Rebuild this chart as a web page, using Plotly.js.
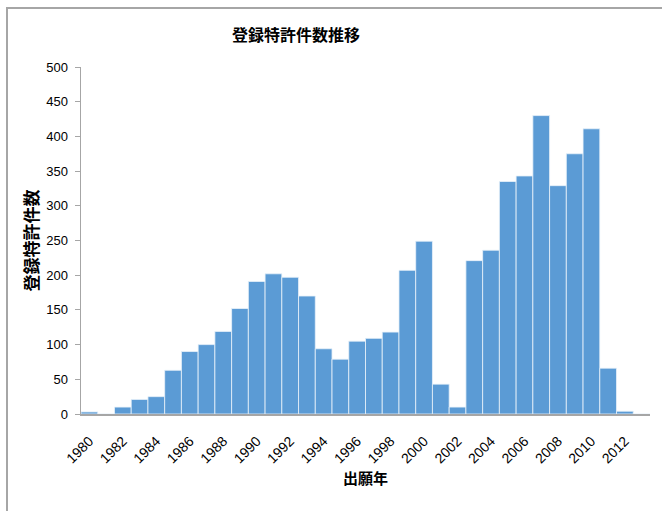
<!DOCTYPE html>
<html>
<head>
<meta charset="utf-8">
<script src="https://cdn.plot.ly/plotly-3.0.1.min.js"></script>
<style>
  html, body { margin: 0; padding: 0; background: #fff; }
  #chart { width: 662px; height: 511px; }
  #frame { position: absolute; left: 6px; top: 7px; width: 700px; height: 600px;
           border-top: 2px solid #a6a6a6; border-left: 2px solid #a6a6a6; pointer-events: none; }
</style>
</head>
<body>
<div id="chart"></div>
<div id="frame"></div>
<script>
const years = [1980,1981,1982,1983,1984,1985,1986,1987,1988,1989,1990,1991,1992,1993,1994,1995,1996,
               1997,1998,1999,2000,2001,2002,2003,2004,2005,2006,2007,2008,2009,2010,2011,2012,2013];
const counts = [3,0,10,21,25,63,90,100,119,152,191,202,197,170,94,79,105,
                109,118,207,249,43,10,221,236,335,343,430,329,375,411,66,4,0];
const yTicks = [0,50,100,150,200,250,300,350,400,450,500];
const xTicks = [1980,1982,1984,1986,1988,1990,1992,1994,1996,1998,2000,2002,2004,2006,2008,2010,2012];

const cjk = '"Noto Sans CJK JP", "Noto Sans CJK SC", sans-serif';
const latin = '"Liberation Sans", Arial, sans-serif';

const data = [{
  type: 'bar',
  x: years,
  y: counts,
  marker: { color: '#5b9bd5', line: { color: '#eaf2fa', width: 0.8 } },
  hoverinfo: 'x+y'
}];

const layout = {
  width: 662, height: 511,
  margin: { l: 81, r: 12, t: 67, b: 97 },
  paper_bgcolor: '#ffffff', plot_bgcolor: '#ffffff',
  bargap: 0,
  showlegend: false,
  title: { text: '登録特許件数推移', x: 0.447, xanchor: 'center', y: 0.93, yanchor: 'middle',
           font: { family: cjk, size: 16, color: '#000', weight: 'bold' } },
  xaxis: {
    range: [1979.5, 2013.5],
    tickmode: 'array', tickvals: xTicks, ticktext: xTicks.map(String),
    tickangle: -45,
    ticks: '', showgrid: false, zeroline: false,
    ticklabelstandoff: 12,
    showline: true, linecolor: '#a6a6a6', linewidth: 1.5,
    tickfont: { family: latin, size: 14, color: '#000' },
    title: { text: '出願年', standoff: 8, font: { family: cjk, size: 15, color: '#000', weight: 'bold' } }
  },
  yaxis: {
    range: [0, 500],
    tickmode: 'array', tickvals: yTicks, ticktext: yTicks.map(String),
    ticks: 'outside', ticklen: 5, tickcolor: '#a6a6a6', tickwidth: 1,
    ticklabelstandoff: 4,
    showgrid: false, zeroline: false,
    showline: true, linecolor: '#a6a6a6', linewidth: 1.5,
    tickfont: { family: latin, size: 13, color: '#000' },
    title: { text: '登録特許件数', standoff: 3, font: { family: cjk, size: 17, color: '#000', weight: 'bold' } }
  }
};

Plotly.newPlot('chart', data, layout, { displayModeBar: false, staticPlot: true });
</script>
</body>
</html>
